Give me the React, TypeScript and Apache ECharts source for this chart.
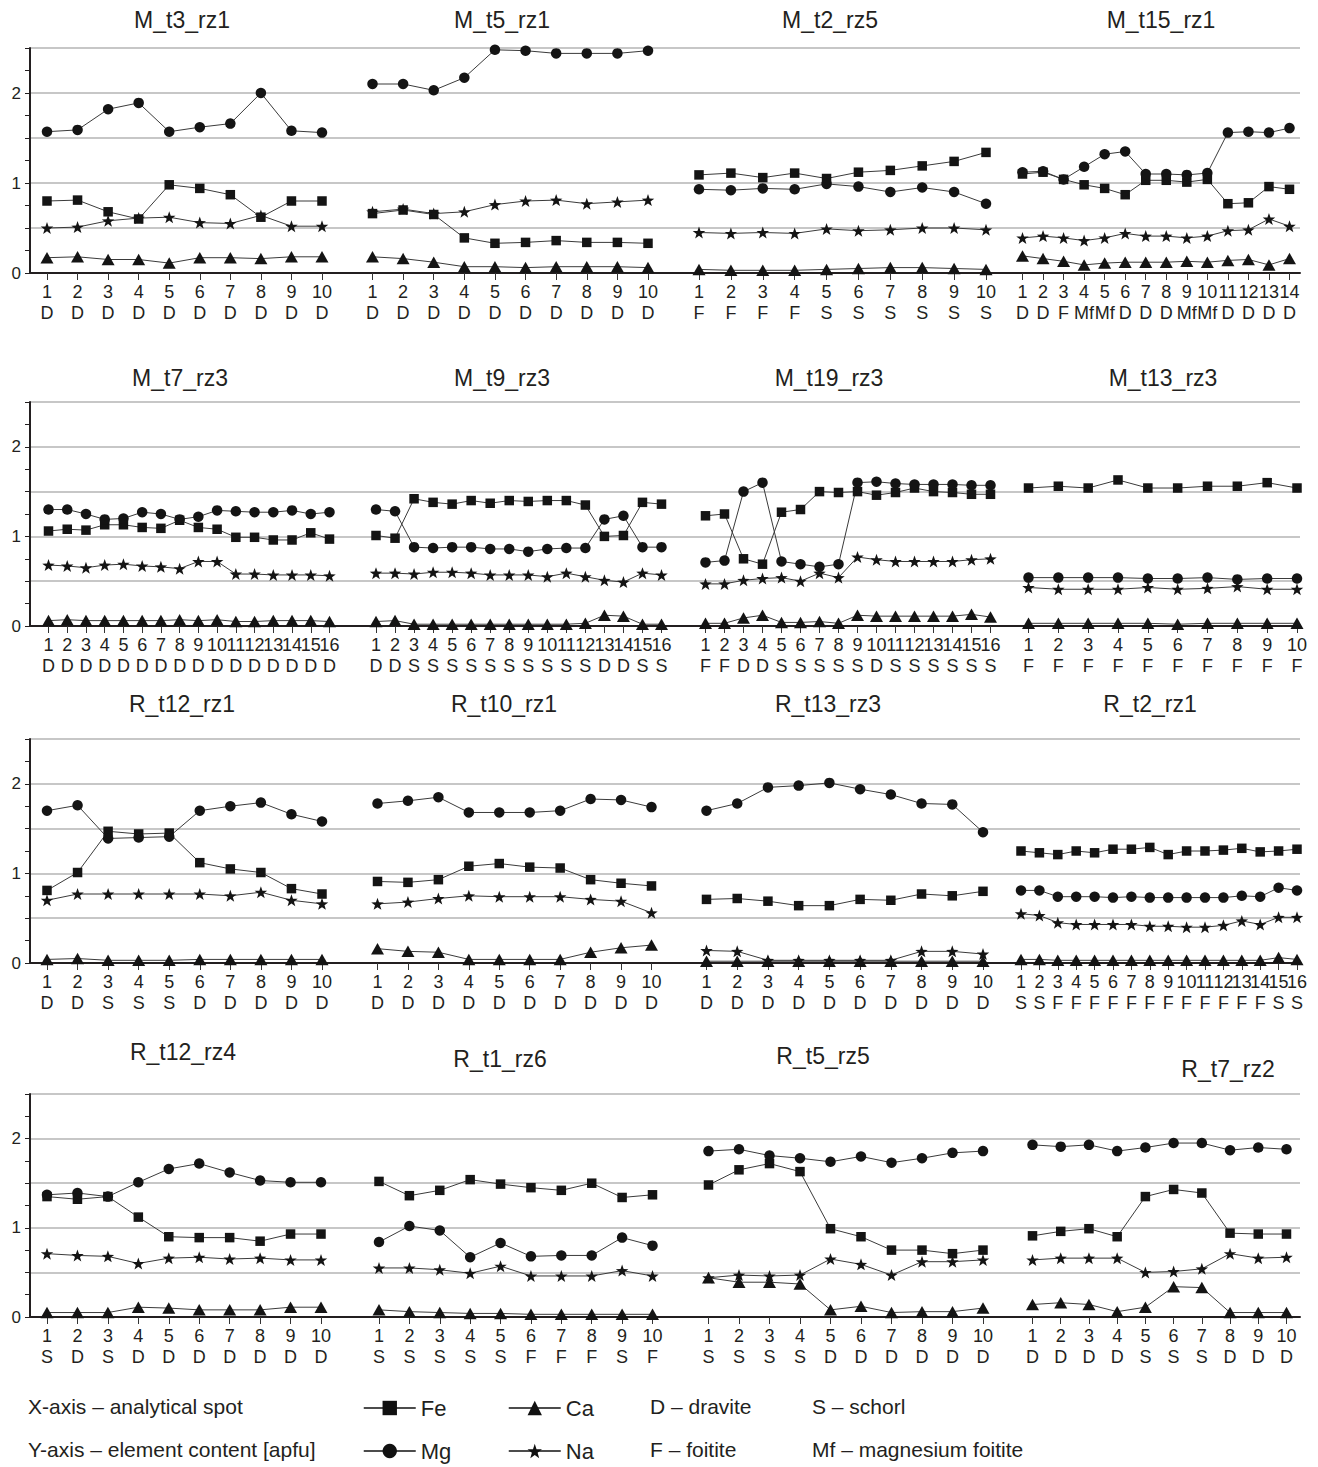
import React, { useEffect, useRef } from "react";
import * as echarts from "echarts";

// ---------------- data (apfu) ----------------
const P01_title = "M_t3_rz1";
const P01_spots = ["D", "D", "D", "D", "D", "D", "D", "D", "D", "D"];
const P01_Fe = [0.8, 0.81, 0.68, 0.6, 0.98, 0.94, 0.87, 0.62, 0.8, 0.8];
const P01_Mg = [1.57, 1.59, 1.82, 1.89, 1.57, 1.62, 1.66, 2.0, 1.58, 1.56];
const P01_Na = [0.5, 0.51, 0.58, 0.61, 0.62, 0.56, 0.55, 0.64, 0.52, 0.52];
const P01_Ca = [0.17, 0.18, 0.15, 0.15, 0.11, 0.17, 0.17, 0.16, 0.18, 0.18];

const P02_title = "M_t5_rz1";
const P02_spots = ["D", "D", "D", "D", "D", "D", "D", "D", "D", "D"];
const P02_Fe = [0.66, 0.7, 0.65, 0.39, 0.33, 0.34, 0.36, 0.34, 0.34, 0.33];
const P02_Mg = [2.1, 2.1, 2.03, 2.17, 2.48, 2.47, 2.44, 2.44, 2.44, 2.47];
const P02_Na = [0.68, 0.71, 0.66, 0.68, 0.76, 0.8, 0.81, 0.77, 0.79, 0.81];
const P02_Ca = [0.18, 0.16, 0.12, 0.07, 0.07, 0.06, 0.07, 0.07, 0.07, 0.06];

const P03_title = "M_t2_rz5";
const P03_spots = ["F", "F", "F", "F", "S", "S", "S", "S", "S", "S"];
const P03_Fe = [1.09, 1.11, 1.06, 1.11, 1.05, 1.12, 1.14, 1.19, 1.24, 1.34];
const P03_Mg = [0.93, 0.92, 0.94, 0.93, 0.99, 0.96, 0.9, 0.95, 0.9, 0.77];
const P03_Na = [0.45, 0.44, 0.45, 0.44, 0.49, 0.47, 0.48, 0.5, 0.5, 0.48];
const P03_Ca = [0.04, 0.03, 0.03, 0.03, 0.04, 0.05, 0.06, 0.06, 0.05, 0.04];

const P04_title = "M_t15_rz1";
const P04_spots = ["D", "D", "F", "Mf", "Mf", "D", "D", "D", "Mf", "Mf", "D", "D", "D", "D"];
const P04_Fe = [1.1, 1.12, 1.04, 0.98, 0.94, 0.87, 1.03, 1.03, 1.01, 1.04, 0.77, 0.78, 0.96, 0.93];
const P04_Mg = [1.12, 1.13, 1.04, 1.18, 1.32, 1.35, 1.1, 1.1, 1.09, 1.11, 1.56, 1.57, 1.56, 1.61];
const P04_Na = [0.39, 0.41, 0.39, 0.36, 0.39, 0.44, 0.41, 0.41, 0.39, 0.41, 0.47, 0.48, 0.6, 0.52];
const P04_Ca = [0.19, 0.16, 0.13, 0.09, 0.11, 0.12, 0.12, 0.12, 0.13, 0.12, 0.14, 0.15, 0.09, 0.16];

const P05_title = "M_t7_rz3";
const P05_spots = ["D", "D", "D", "D", "D", "D", "D", "D", "D", "D", "D", "D", "D", "D", "D", "D"];
const P05_Fe = [1.06, 1.08, 1.07, 1.13, 1.13, 1.1, 1.09, 1.18, 1.1, 1.08, 0.99, 0.99, 0.96, 0.96, 1.04, 0.97];
const P05_Mg = [1.3, 1.3, 1.25, 1.19, 1.2, 1.27, 1.25, 1.19, 1.22, 1.29, 1.28, 1.27, 1.27, 1.29, 1.25, 1.27];
const P05_Na = [0.68, 0.67, 0.65, 0.68, 0.69, 0.67, 0.66, 0.64, 0.72, 0.72, 0.58, 0.58, 0.57, 0.57, 0.57, 0.56];
const P05_Ca = [0.06, 0.07, 0.06, 0.06, 0.06, 0.06, 0.06, 0.07, 0.06, 0.07, 0.05, 0.05, 0.06, 0.06, 0.06, 0.05];

const P06_title = "M_t9_rz3";
const P06_spots = ["D", "D", "S", "S", "S", "S", "S", "S", "S", "S", "S", "S", "D", "D", "S", "S"];
const P06_Fe = [1.01, 0.98, 1.42, 1.38, 1.36, 1.4, 1.37, 1.4, 1.39, 1.4, 1.4, 1.35, 1.0, 1.01, 1.38, 1.36];
const P06_Mg = [1.3, 1.28, 0.88, 0.87, 0.88, 0.88, 0.86, 0.86, 0.83, 0.86, 0.87, 0.87, 1.19, 1.23, 0.88, 0.88];
const P06_Na = [0.59, 0.59, 0.58, 0.6, 0.6, 0.59, 0.57, 0.57, 0.57, 0.55, 0.59, 0.55, 0.51, 0.49, 0.59, 0.57];
const P06_Ca = [0.05, 0.06, 0.02, 0.02, 0.02, 0.02, 0.02, 0.02, 0.02, 0.02, 0.02, 0.03, 0.12, 0.11, 0.02, 0.02];

const P07_title = "M_t19_rz3";
const P07_spots = ["F", "F", "D", "D", "S", "S", "S", "S", "S", "D", "S", "S", "S", "S", "S", "S"];
const P07_Fe = [1.23, 1.25, 0.75, 0.69, 1.27, 1.3, 1.5, 1.49, 1.5, 1.46, 1.49, 1.54, 1.5, 1.49, 1.47, 1.47];
const P07_Mg = [0.71, 0.73, 1.5, 1.6, 0.72, 0.69, 0.66, 0.69, 1.6, 1.61, 1.59, 1.58, 1.58, 1.58, 1.57, 1.57];
const P07_Na = [0.47, 0.47, 0.51, 0.53, 0.54, 0.5, 0.59, 0.54, 0.77, 0.74, 0.72, 0.72, 0.72, 0.72, 0.74, 0.75];
const P07_Ca = [0.03, 0.03, 0.09, 0.12, 0.04, 0.04, 0.05, 0.03, 0.12, 0.11, 0.11, 0.11, 0.11, 0.11, 0.13, 0.1];

const P08_title = "M_t13_rz3";
const P08_spots = ["F", "F", "F", "F", "F", "F", "F", "F", "F", "F"];
const P08_Fe = [1.54, 1.56, 1.54, 1.63, 1.54, 1.54, 1.56, 1.56, 1.6, 1.54];
const P08_Mg = [0.54, 0.54, 0.54, 0.54, 0.53, 0.53, 0.54, 0.52, 0.53, 0.53];
const P08_Na = [0.43, 0.41, 0.41, 0.41, 0.43, 0.41, 0.42, 0.44, 0.41, 0.41];
const P08_Ca = [0.03, 0.03, 0.03, 0.03, 0.03, 0.02, 0.03, 0.03, 0.03, 0.03];

const P09_title = "R_t12_rz1";
const P09_spots = ["D", "D", "S", "S", "S", "D", "D", "D", "D", "D"];
const P09_Fe = [0.81, 1.01, 1.47, 1.44, 1.45, 1.12, 1.05, 1.01, 0.83, 0.77];
const P09_Mg = [1.7, 1.76, 1.39, 1.4, 1.41, 1.7, 1.75, 1.79, 1.66, 1.58];
const P09_Na = [0.7, 0.77, 0.77, 0.77, 0.77, 0.77, 0.75, 0.79, 0.7, 0.66];
const P09_Ca = [0.04, 0.05, 0.03, 0.03, 0.03, 0.04, 0.04, 0.04, 0.04, 0.04];

const P10_title = "R_t10_rz1";
const P10_spots = ["D", "D", "D", "D", "D", "D", "D", "D", "D", "D"];
const P10_Fe = [0.91, 0.9, 0.93, 1.08, 1.11, 1.07, 1.06, 0.93, 0.89, 0.86];
const P10_Mg = [1.78, 1.81, 1.85, 1.68, 1.68, 1.68, 1.7, 1.83, 1.82, 1.74];
const P10_Na = [0.66, 0.68, 0.72, 0.75, 0.74, 0.74, 0.74, 0.71, 0.69, 0.56];
const P10_Ca = [0.16, 0.13, 0.12, 0.04, 0.04, 0.04, 0.04, 0.12, 0.17, 0.2];

const P11_title = "R_t13_rz3";
const P11_spots = ["D", "D", "D", "D", "D", "D", "D", "D", "D", "D"];
const P11_Fe = [0.71, 0.72, 0.69, 0.64, 0.64, 0.71, 0.7, 0.77, 0.75, 0.8];
const P11_Mg = [1.7, 1.78, 1.96, 1.98, 2.01, 1.94, 1.88, 1.78, 1.77, 1.46];
const P11_Na = [0.14, 0.13, 0.03, 0.03, 0.03, 0.03, 0.03, 0.13, 0.13, 0.1];
const P11_Ca = [0.02, 0.02, 0.02, 0.02, 0.02, 0.02, 0.02, 0.02, 0.02, 0.02];

const P12_title = "R_t2_rz1";
const P12_spots = ["S", "S", "F", "F", "F", "F", "F", "F", "F", "F", "F", "F", "F", "F", "S", "S"];
const P12_Fe = [1.25, 1.23, 1.21, 1.25, 1.23, 1.27, 1.27, 1.29, 1.21, 1.25, 1.25, 1.26, 1.28, 1.24, 1.25, 1.27];
const P12_Mg = [0.81, 0.81, 0.74, 0.74, 0.74, 0.73, 0.74, 0.73, 0.73, 0.73, 0.73, 0.73, 0.75, 0.74, 0.84, 0.81];
const P12_Na = [0.55, 0.53, 0.45, 0.43, 0.43, 0.43, 0.43, 0.41, 0.41, 0.4, 0.4, 0.42, 0.47, 0.43, 0.51, 0.51];
const P12_Ca = [0.04, 0.04, 0.03, 0.03, 0.03, 0.03, 0.03, 0.03, 0.03, 0.03, 0.03, 0.03, 0.03, 0.03, 0.06, 0.04];

const P13_title = "R_t12_rz4";
const P13_spots = ["S", "D", "S", "D", "D", "D", "D", "D", "D", "D"];
const P13_Fe = [1.35, 1.32, 1.35, 1.12, 0.9, 0.89, 0.89, 0.85, 0.93, 0.93];
const P13_Mg = [1.37, 1.39, 1.35, 1.51, 1.66, 1.72, 1.62, 1.53, 1.51, 1.51];
const P13_Na = [0.71, 0.69, 0.68, 0.6, 0.66, 0.67, 0.65, 0.66, 0.64, 0.64];
const P13_Ca = [0.05, 0.05, 0.05, 0.11, 0.1, 0.08, 0.08, 0.08, 0.11, 0.11];

const P14_title = "R_t1_rz6";
const P14_spots = ["S", "S", "S", "S", "S", "F", "F", "F", "S", "F"];
const P14_Fe = [1.52, 1.36, 1.42, 1.54, 1.49, 1.45, 1.42, 1.5, 1.34, 1.37];
const P14_Mg = [0.84, 1.02, 0.97, 0.67, 0.83, 0.68, 0.69, 0.69, 0.89, 0.8];
const P14_Na = [0.55, 0.55, 0.53, 0.49, 0.57, 0.46, 0.46, 0.46, 0.52, 0.46];
const P14_Ca = [0.08, 0.06, 0.05, 0.04, 0.04, 0.03, 0.03, 0.03, 0.03, 0.03];

const P15_title = "R_t5_rz5";
const P15_spots = ["S", "S", "S", "S", "D", "D", "D", "D", "D", "D"];
const P15_Fe = [1.48, 1.65, 1.72, 1.63, 0.99, 0.9, 0.75, 0.75, 0.71, 0.75];
const P15_Mg = [1.86, 1.88, 1.81, 1.78, 1.74, 1.8, 1.73, 1.78, 1.84, 1.86];
const P15_Na = [0.44, 0.47, 0.46, 0.47, 0.65, 0.59, 0.47, 0.62, 0.62, 0.64];
const P15_Ca = [0.44, 0.39, 0.39, 0.37, 0.08, 0.12, 0.05, 0.06, 0.06, 0.1];

const P16_title = "R_t7_rz2";
const P16_spots = ["D", "D", "D", "D", "S", "S", "S", "D", "D", "D"];
const P16_Fe = [0.91, 0.96, 0.99, 0.9, 1.35, 1.43, 1.39, 0.94, 0.93, 0.93];
const P16_Mg = [1.93, 1.91, 1.93, 1.86, 1.9, 1.95, 1.95, 1.87, 1.9, 1.88];
const P16_Na = [0.64, 0.66, 0.66, 0.66, 0.5, 0.51, 0.54, 0.71, 0.66, 0.67];
const P16_Ca = [0.14, 0.16, 0.14, 0.06, 0.11, 0.34, 0.33, 0.05, 0.05, 0.05];

const Y_MIN = 0;
const Y_MAX = 2.5;

const LEGEND_NOTES = [
  "X-axis – analytical spot",
  "Y-axis – element content [apfu]",
  "D – dravite",
  "S – schorl",
  "F – foitite",
  "Mf – magnesium foitite",
];

const PANELS = [
  { title: P01_title, spots: P01_spots, Fe: P01_Fe, Mg: P01_Mg, Na: P01_Na, Ca: P01_Ca },
  { title: P02_title, spots: P02_spots, Fe: P02_Fe, Mg: P02_Mg, Na: P02_Na, Ca: P02_Ca },
  { title: P03_title, spots: P03_spots, Fe: P03_Fe, Mg: P03_Mg, Na: P03_Na, Ca: P03_Ca },
  { title: P04_title, spots: P04_spots, Fe: P04_Fe, Mg: P04_Mg, Na: P04_Na, Ca: P04_Ca },
  { title: P05_title, spots: P05_spots, Fe: P05_Fe, Mg: P05_Mg, Na: P05_Na, Ca: P05_Ca },
  { title: P06_title, spots: P06_spots, Fe: P06_Fe, Mg: P06_Mg, Na: P06_Na, Ca: P06_Ca },
  { title: P07_title, spots: P07_spots, Fe: P07_Fe, Mg: P07_Mg, Na: P07_Na, Ca: P07_Ca },
  { title: P08_title, spots: P08_spots, Fe: P08_Fe, Mg: P08_Mg, Na: P08_Na, Ca: P08_Ca },
  { title: P09_title, spots: P09_spots, Fe: P09_Fe, Mg: P09_Mg, Na: P09_Na, Ca: P09_Ca },
  { title: P10_title, spots: P10_spots, Fe: P10_Fe, Mg: P10_Mg, Na: P10_Na, Ca: P10_Ca },
  { title: P11_title, spots: P11_spots, Fe: P11_Fe, Mg: P11_Mg, Na: P11_Na, Ca: P11_Ca },
  { title: P12_title, spots: P12_spots, Fe: P12_Fe, Mg: P12_Mg, Na: P12_Na, Ca: P12_Ca },
  { title: P13_title, spots: P13_spots, Fe: P13_Fe, Mg: P13_Mg, Na: P13_Na, Ca: P13_Ca },
  { title: P14_title, spots: P14_spots, Fe: P14_Fe, Mg: P14_Mg, Na: P14_Na, Ca: P14_Ca },
  { title: P15_title, spots: P15_spots, Fe: P15_Fe, Mg: P15_Mg, Na: P15_Na, Ca: P15_Ca },
  { title: P16_title, spots: P16_spots, Fe: P16_Fe, Mg: P16_Mg, Na: P16_Na, Ca: P16_Ca },
];

// ---------------- layout ----------------
const W = 1318;
const H = 1467;
const ROW_TOP = [48, 402, 739, 1094];
const ROW_HEIGHT = [225, 224, 224, 223];
const ROW_LEFT = 30;
const ROW_RIGHT_END = 1300;
// x position of first and last analytical spot of every panel
const PANEL_X = [
  [47, 322], [372.5, 648], [699, 986], [1022.5, 1289.5],
  [48.5, 329.5], [376, 661.5], [705.5, 990.5], [1028.5, 1297],
  [47, 322], [377.5, 651.5], [706.5, 983], [1021, 1297],
  [47, 321], [379, 652.5], [708.5, 983], [1032.5, 1286.5],
];
const TITLE_POS = [
  [182, 20], [502, 20], [830, 20], [1161, 20],
  [180, 378], [502, 378], [829, 378], [1163, 378],
  [182, 704], [504, 704], [828, 704], [1150, 704],
  [183, 1052], [500, 1059], [823, 1056], [1228, 1069],
];

const FONT = "'Liberation Sans', Arial, Helvetica, sans-serif";
const INK = "#231f20";
const STAR =
  "path://M50,0L61.76,33.82L97.55,34.55L69.02,56.18L79.39,90.45L50,70L20.61,90.45L30.98,56.18L2.45,34.55L38.24,33.82Z";

const ELEMENTS = [
  { key: "Fe", symbol: "rect", size: 9.5 },
  { key: "Mg", symbol: "circle", size: 10.5 },
  { key: "Na", symbol: STAR, size: [12.5, 12] },
  { key: "Ca", symbol: "triangle", size: [13, 11.5] },
];

function buildOption() {
  const grid: any[] = [];
  const xAxis: any[] = [];
  const yAxis: any[] = [];
  const series: any[] = [];
  const graphic: any[] = [];

  // background grids (one per row): y-axis, gridlines and x-axis line
  for (let r = 0; r < 4; r++) {
    grid.push({
      left: ROW_LEFT,
      width: ROW_RIGHT_END - ROW_LEFT,
      top: ROW_TOP[r],
      height: ROW_HEIGHT[r],
      outerBoundsMode: "none",
    });
    xAxis.push({
      type: "value",
      gridIndex: r,
      min: 0,
      max: 1,
      axisLine: { show: true, onZero: false, lineStyle: { color: INK, width: 2 } },
      axisTick: { show: false },
      axisLabel: { show: false },
      splitLine: { show: false },
    });
    yAxis.push({
      type: "value",
      gridIndex: r,
      min: Y_MIN,
      max: Y_MAX,
      interval: 0.5,
      axisLine: { show: true, onZero: false, lineStyle: { color: INK, width: 2 } },
      axisTick: { show: true, length: 5, lineStyle: { color: INK, width: 1 } },
      minorTick: { show: true, splitNumber: 2, length: 5, lineStyle: { color: INK, width: 1 } },
      minorSplitLine: { show: false },
      splitLine: { show: true, lineStyle: { color: "#b5b5b5", width: 1.5 } },
      axisLabel: {
        margin: 9,
        fontSize: 17,
        color: INK,
        fontFamily: FONT,
        formatter: (v: number) => (Math.abs(v - Math.round(v)) < 1e-6 ? String(Math.round(v)) : ""),
      },
    });
  }

  PANELS.forEach((p, i) => {
    const r = Math.floor(i / 4);
    const gi = 4 + i;
    const [x0, x1] = PANEL_X[i];
    grid.push({
      left: x0,
      width: x1 - x0,
      top: ROW_TOP[r],
      height: ROW_HEIGHT[r],
      outerBoundsMode: "none",
    });
    xAxis.push({
      type: "category",
      gridIndex: gi,
      boundaryGap: false,
      data: p.spots.map((s, k) => `${k + 1}\n${s}`),
      axisLine: { show: false },
      axisTick: { show: true, interval: 0, length: 7, lineStyle: { color: "#333", width: 1 } },
      axisLabel: {
        interval: 0,
        margin: 8,
        fontSize: 18,
        lineHeight: 21,
        color: INK,
        fontFamily: FONT,
      },
      splitLine: { show: false },
    });
    yAxis.push({
      type: "value",
      gridIndex: gi,
      min: Y_MIN,
      max: Y_MAX,
      show: false,
      splitLine: { show: false },
    });
    ELEMENTS.forEach((el) => {
      series.push({
        type: "line",
        name: el.key,
        xAxisIndex: gi,
        yAxisIndex: gi,
        data: (p as any)[el.key],
        symbol: el.symbol,
        symbolSize: el.size,
        showSymbol: true,
        showAllSymbol: true,
        silent: true,
        lineStyle: { color: "#3a3a3a", width: 1 },
        itemStyle: { color: "#141414" },
        emphasis: { disabled: true },
      });
    });
    graphic.push({
      type: "text",
      x: TITLE_POS[i][0],
      y: TITLE_POS[i][1],
      style: {
        text: p.title,
        fill: INK,
        fontSize: 23,
        fontFamily: FONT,
        align: "center",
        verticalAlign: "middle",
        textAlign: "center",
        textVerticalAlign: "middle",
      },
    });
  });

  const notePos = [
    [28, 1406], [28, 1449], [650, 1406], [812, 1406], [650, 1449], [812, 1449],
  ];
  LEGEND_NOTES.forEach((t, k) => {
    graphic.push({
      type: "text",
      x: notePos[k][0],
      y: notePos[k][1],
      style: {
        text: t,
        fill: INK,
        fontSize: 21,
        fontFamily: FONT,
        align: "left",
        verticalAlign: "middle",
        textAlign: "left",
        textVerticalAlign: "middle",
      },
    });
  });

  const legendPos: Record<string, number[]> = {
    Fe: [358, 1392],
    Mg: [358, 1435],
    Ca: [503, 1392],
    Na: [503, 1435],
  };
  const legend = Object.keys(legendPos).map((name) => ({
    data: [name],
    left: legendPos[name][0],
    top: legendPos[name][1],
    padding: 5,
    itemWidth: 52,
    itemHeight: 18,
    selectedMode: false,
    lineStyle: { color: "#111", width: 1.5 },
    itemStyle: { color: "#111" },
    textStyle: { fontSize: 22, color: INK, fontFamily: FONT },
  }));

  return {
    animation: false,
    backgroundColor: "#ffffff",
    grid,
    xAxis,
    yAxis,
    series,
    legend,
    graphic,
  };
}

export default function App() {
  const ref = useRef<HTMLDivElement>(null);
  useEffect(() => {
    document.body.style.margin = "0";
    if (!ref.current) return;
    const chart = echarts.init(ref.current, undefined, { renderer: "svg" });
    chart.setOption(buildOption() as any);
    return () => {
      chart.dispose();
    };
  }, []);
  return <div ref={ref} style={{ width: W, height: H, background: "#fff" }} />;
}
